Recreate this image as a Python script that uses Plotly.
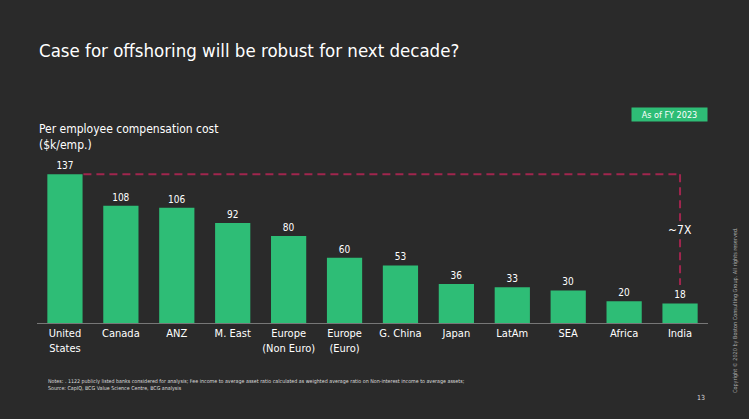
import plotly.graph_objects as go

# data
regions = ["United<br>States", "Canada", "ANZ", "M. East", "Europe<br>(Non Euro)", "Europe<br>(Euro)",
           "G. China", "Japan", "LatAm", "SEA", "Africa", "India"]
comp_cost = [137, 108, 106, 92, 80, 60, 53, 36, 33, 30, 20, 18]

BG = "#2a2a2a"
GREEN = "#2ebd76"
RED = "#a0264e"
FONT = "DejaVu Sans Condensed, Open Sans, sans-serif"

xs = list(range(len(regions)))

fig = go.Figure()
fig.add_trace(go.Bar(
    x=xs, y=comp_cost,
    marker=dict(color=GREEN, line=dict(width=0)),
    text=[str(v) for v in comp_cost],
    textposition="outside",
    textfont=dict(color="white", size=10, family=FONT),
    cliponaxis=False,
    width=0.63,
    hoverinfo="skip",
))

# dashed bracket from the top bar to the lowest one
top = max(comp_cost)
last = xs[-1]
fig.add_shape(type="line", xref="x", yref="y", x0=0.33, x1=last, y0=top, y1=top,
              line=dict(color=RED, width=2, dash="8px,5px"))
fig.add_shape(type="line", xref="x", yref="y", x0=last, x1=last, y0=top, y1=comp_cost[-1] + 17,
              line=dict(color=RED, width=2, dash="8px,5px"))
fig.add_annotation(x=last, y=(top + comp_cost[-1] + 17) / 2, xref="x", yref="y",
                   text="~7X", showarrow=False, bgcolor=BG,
                   font=dict(color="white", size=12, family=FONT))

fig.update_layout(
    width=749, height=419,
    margin=dict(l=0, r=0, t=0, b=0),
    paper_bgcolor=BG, plot_bgcolor=BG,
    showlegend=False,
    xaxis=dict(domain=[37 / 749, 708 / 749], range=[-0.5, len(regions) - 0.5],
               tickmode="array", tickvals=xs, ticktext=regions,
               tickfont=dict(color="white", size=11, family=FONT),
               showgrid=False, zeroline=False, showline=True,
               linecolor="#777777", linewidth=1, ticks=""),
    yaxis=dict(domain=[1 - 323 / 419, 1 - 160 / 419], range=[0, 150],
               visible=False, showgrid=False, zeroline=False),
)

fig.add_annotation(x=37 / 749, y=1 - 50 / 419, xref="paper", yref="paper",
                   xanchor="left", yanchor="middle", showarrow=False,
                   text="Case for offshoring will be robust for next decade?",
                   font=dict(color="white", size=18.5, family=FONT))
fig.add_annotation(x=37 / 749, y=1 - 137 / 419, xref="paper", yref="paper",
                   xanchor="left", yanchor="middle", showarrow=False, align="left",
                   text="Per employee compensation cost<br>($k/emp.)",
                   font=dict(color="white", size=12, family=FONT))
fig.add_annotation(x=708 / 749, y=1 - 114.5 / 419, xref="paper", yref="paper",
                   xanchor="right", yanchor="middle", showarrow=False,
                   text="As of FY 2023", bgcolor=GREEN, borderpad=1, width=73, height=11,
                   font=dict(color="white", size=9, family=FONT))
fig.add_annotation(x=46 / 749, y=1 - 385 / 419, xref="paper", yref="paper",
                   xanchor="left", yanchor="middle", showarrow=False, align="left",
                   text="Notes: . 1122 publicly listed banks considered for analysis; Fee income to average asset ratio "
                        "calculated as weighted average ratio on Non-interest income to average assets;<br>"
                        "Source: CapIQ, BCG Value Science Centre, BCG analysis",
                   font=dict(color="#dddddd", size=5.3, family=FONT))
fig.add_annotation(x=701 / 749, y=1 - 398 / 419, xref="paper", yref="paper",
                   xanchor="center", yanchor="middle", showarrow=False, text="13",
                   font=dict(color="#dddddd", size=7, family=FONT))
fig.add_annotation(x=735 / 749, y=1 - 310 / 419, xref="paper", yref="paper",
                   xanchor="center", yanchor="middle", showarrow=False, textangle=-90,
                   text="Copyright © 2020 by Boston Consulting Group. All rights reserved.",
                   font=dict(color="#aaaaaa", size=5.5, family=FONT))

fig.write_html("out.html", config={"displayModeBar": False},
               post_script="document.body.style.margin='0';")
